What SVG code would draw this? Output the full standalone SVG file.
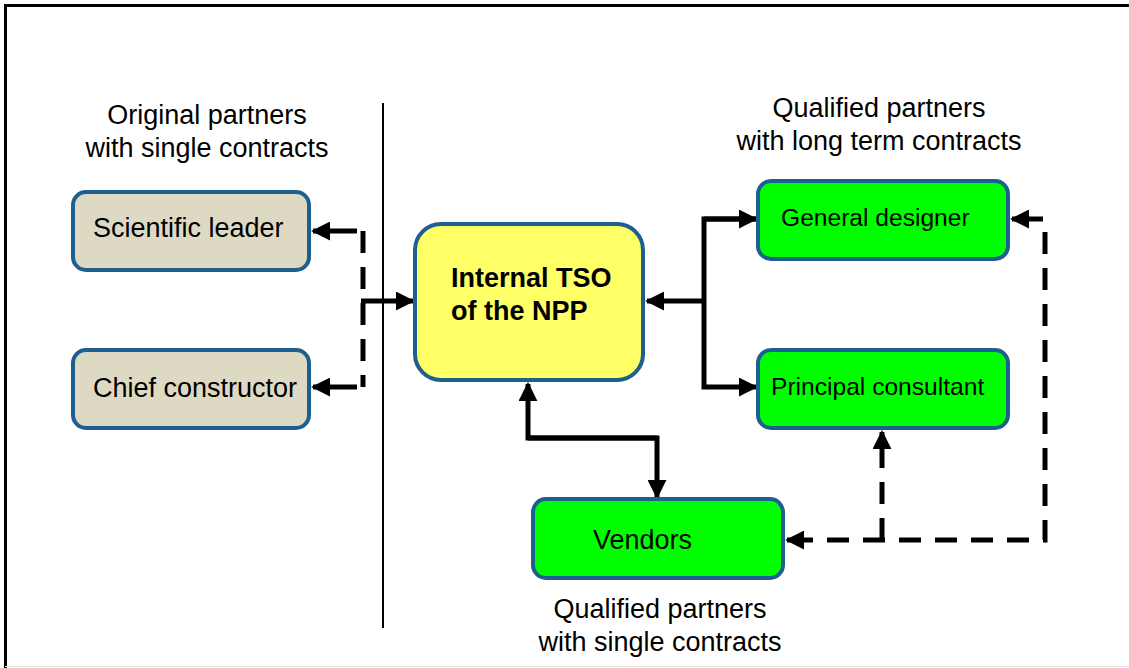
<svg xmlns="http://www.w3.org/2000/svg" width="1129" height="668" viewBox="0 0 1129 668">
<style>
.lbl{font-family:"Liberation Sans",Arial,sans-serif;font-size:27px;fill:#000}
.node{stroke:#1f5f8f;stroke-width:4}
.tan{fill:#ddd9c3}
.grn{fill:#00ff00}
.yel{fill:#ffff66}
.nt{font-family:"Liberation Sans",Arial,sans-serif;font-size:27px;fill:#000}
.ng{font-family:"Liberation Sans",Arial,sans-serif;font-size:24.6px;fill:#000}
.c{fill:none;stroke:#000;stroke-width:5}
.d{fill:none;stroke:#000;stroke-width:5;stroke-dasharray:22 14}
</style>
<defs>
<marker id="ah" viewBox="0 0 10 10" refX="9" refY="5" markerWidth="3.8" markerHeight="3.8" orient="auto" markerUnits="strokeWidth">
<path d="M0,0 L10,5 L0,10 z" fill="#000"/>
</marker>
</defs>
<rect x="0" y="0" width="1129" height="668" fill="#fff"/>
<line x1="4" y1="5.5" x2="1129" y2="5.5" stroke="#000" stroke-width="3"/>
<line x1="5.5" y1="4" x2="5.5" y2="668" stroke="#000" stroke-width="3"/>
<line x1="5" y1="666.5" x2="1129" y2="666.5" stroke="#e6e6e6" stroke-width="1"/>
<line x1="383" y1="103" x2="383" y2="628" stroke="#000" stroke-width="2"/>

<text class="lbl" text-anchor="middle" x="207" y="124">Original partners</text>
<text class="lbl" text-anchor="middle" x="207" y="157">with single contracts</text>
<text class="lbl" text-anchor="middle" x="879" y="117">Qualified partners</text>
<text class="lbl" text-anchor="middle" x="879" y="150">with long term contracts</text>
<text class="lbl" text-anchor="middle" x="660" y="618">Qualified partners</text>
<text class="lbl" text-anchor="middle" x="660" y="651">with single contracts</text>

<g id="connectors">
<path class="d" d="M363,231 V387"/>
<path class="c" d="M357,231 H313" marker-end="url(#ah)"/>
<path class="c" d="M357,387 H313" marker-end="url(#ah)"/>
<path class="c" d="M361,301 H413" marker-end="url(#ah)"/>
<path class="c" d="M704,301 H647" marker-end="url(#ah)"/>
<path class="c" d="M756,219 H704 V387 H756" marker-end="url(#ah)"/>
<path class="c" d="M704,219 H756" marker-end="url(#ah)"/>
<path class="c" d="M657,438 H528 V384" marker-end="url(#ah)"/>
<path class="c" d="M528,438 H657 V497" marker-end="url(#ah)"/>
<path class="c" d="M1043,219 H1012" marker-end="url(#ah)"/>
<path class="d" d="M1045,232 V540 H800"/>
<path class="c" d="M800,540 H787" marker-end="url(#ah)"/>
<path class="d" d="M882,540 V452"/>
<path class="c" d="M882,452 V432" marker-end="url(#ah)"/>
</g>

<g id="scientific-leader">
<rect class="node tan" x="73" y="192" width="236" height="78" rx="13"/>
<text class="nt" x="93" y="237">Scientific leader</text>
</g>
<g id="chief-constructor">
<rect class="node tan" x="73" y="350" width="236" height="78" rx="13"/>
<text class="nt" x="93" y="397">Chief constructor</text>
</g>
<g id="internal-tso">
<rect class="node yel" x="415" y="224" width="228" height="156" rx="26"/>
<text class="nt" x="451" y="287" font-weight="bold">Internal TSO</text>
<text class="nt" x="451" y="320" font-weight="bold">of the NPP</text>
</g>
<g id="general-designer">
<rect class="node grn" x="758" y="181" width="250" height="78" rx="13"/>
<text class="ng" x="781" y="226">General designer</text>
</g>
<g id="principal-consultant">
<rect class="node grn" x="758" y="350" width="250" height="78" rx="13"/>
<text class="ng" x="771" y="395">Principal consultant</text>
</g>
<g id="vendors">
<rect class="node grn" x="533" y="499" width="250" height="79" rx="13"/>
<text class="nt" x="593" y="549">Vendors</text>
</g>
</svg>
